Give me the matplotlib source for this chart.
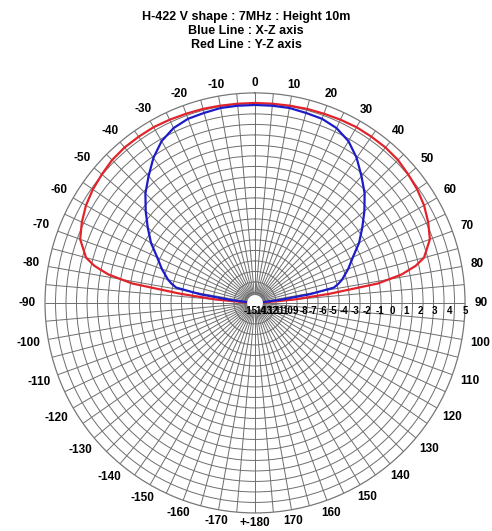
import numpy as np
import matplotlib
matplotlib.use("Agg")
import matplotlib.pyplot as plt
import matplotlib.transforms as mtransforms

plt.rcParams['font.family'] = ['Liberation Sans', 'DejaVu Sans']

# elevation angle (deg, 0 = zenith, clockwise positive)
angles = [-90, -87, -85, -83, -81, -79, -77, -75, -70, -65, -60, -55, -50, -45,
          -40, -35, -30, -25, -20, -15, -10, -5, 0, 5, 10, 15, 20, 25, 30, 35,
          40, 45, 50, 55, 60, 65, 70, 75, 77, 79, 81, 83, 85, 87, 90]

# gain in dB, Y-Z plane (red)
red_db = [-15, -13.5, -9.1, -5.3, -1.0, 0.9, 2.0, 2.7, 3.45, 3.78, 4.05, 4.23, 4.36, 4.5,
          4.55, 4.55, 4.55, 4.5, 4.45, 4.42, 4.38, 4.36, 4.36, 4.36, 4.38, 4.42, 4.45, 4.5, 4.55, 4.55,
          4.55, 4.5, 4.36, 4.23, 4.05, 3.78, 3.45, 2.7, 2.0, 0.9, -1.0, -5.3, -9.1, -13.5, -15]

# gain in dB, X-Z plane (blue)
blue_db = [-15, -15, -14, -11, -7.3, -4.8, -4.3, -3.9, -3.1, -2.35, -1.35, -0.5, 0.4, 1.3,
           2.05, 2.85, 3.5, 3.9, 4.1, 4.15, 4.23, 4.23, 4.23, 4.23, 4.23, 4.15, 4.1, 3.9, 3.5, 2.85,
           2.05, 1.3, 0.4, -0.5, -1.35, -2.35, -3.1, -3.9, -4.3, -4.8, -7.3, -11, -14, -15, -15]

r_ticks = list(range(-15, 6))
r_labels = ['-15', '14', '13', '12', '11', '10', '9', '-8', '-7', '-6', '-5',
            '-4', '-3', '-2', '-1', '0', '1', '2', '3', '4', '5']

theta_ticks = list(range(-170, 181, 10))
theta_labels = [str(a) for a in theta_ticks[:-1]] + ['+-180']

n_rings = 20


def fwd(v):
    x = (np.asarray(v, dtype=float) + 15) / 20
    return x * (0.49 + 0.51 * x)


def inv(u):
    u = np.asarray(u, dtype=float)
    return 20 * (-0.49 + np.sqrt(np.maximum(0.2401 + 2.04 * u, 0))) / 1.02 - 15


def label_width(s):
    w = {'-': 3.9, '+': 6.9}
    return sum(w.get(c, 6.6) for c in s)


fig = plt.figure(figsize=(4.92, 5.31), dpi=100)
ax = fig.add_axes([0.0915, 0.034, 0.8537, 0.791], projection='polar')
ax.set_theta_zero_location('N')
ax.set_theta_direction(-1)
ax.set_rscale('function', functions=(fwd, inv))
ax.set_rlim(-15, 5)

# evenly spaced rings, spokes every 5 degrees
ring_pos = inv(np.arange(1, n_rings) / n_rings)
ax.set_rgrids(ring_pos, labels=[''] * len(ring_pos))
ax.yaxis.grid(True, color='#6e6e6e', lw=0.7)
ax.set_xticks([])
ax.xaxis.grid(False)
spokes = np.deg2rad(np.arange(0, 360, 5))
ax.vlines(spokes, inv(0.035), 5, color='#6e6e6e', lw=0.7, zorder=1)
ax.spines['polar'].set_color('#777777')
ax.spines['polar'].set_linewidth(0.9)

# angle labels around the rim
for a, lab in zip(theta_ticks, theta_labels):
    t = np.deg2rad(a)
    rp = 220 + 0.45 * label_width(lab) * abs(np.sin(t))
    ax.text(0.5 + rp / 420 * np.sin(t), 0.5 + rp / 420 * np.cos(t), lab,
            transform=ax.transAxes, ha='center', va='center',
            fontsize=8.5, fontweight='bold')

th = np.deg2rad(angles)
ax.plot(th, red_db, color='#e2232b', lw=1.6, zorder=3)
ax.plot(th, blue_db, color='#1c1cc8', lw=1.6, zorder=4)

# white hole in the middle
circ = np.linspace(0, 2 * np.pi, 120)
ax.fill(circ, np.full_like(circ, inv(0.034)), color='white', zorder=4.5)

# radial labels just below the 90 deg spoke
for v, lab in zip(r_ticks, r_labels):
    dx = -3 if v == -15 else 0
    off = mtransforms.offset_copy(ax.transData, fig=fig, x=dx, y=-2, units='points')
    ax.text(np.pi / 2, v, lab, transform=off, ha='center', va='top',
            fontsize=7, fontweight='bold', zorder=5)

fig.text(0.5, 0.968, 'H-422 V shape : 7MHz : Height 10m', ha='center', va='center',
         fontsize=9, fontweight='bold')
fig.text(0.5, 0.942, 'Blue Line : X-Z axis', ha='center', va='center',
         fontsize=9, fontweight='bold')
fig.text(0.5, 0.916, 'Red Line : Y-Z axis', ha='center', va='center',
         fontsize=9, fontweight='bold')

fig.savefig('out.png', dpi=100)
